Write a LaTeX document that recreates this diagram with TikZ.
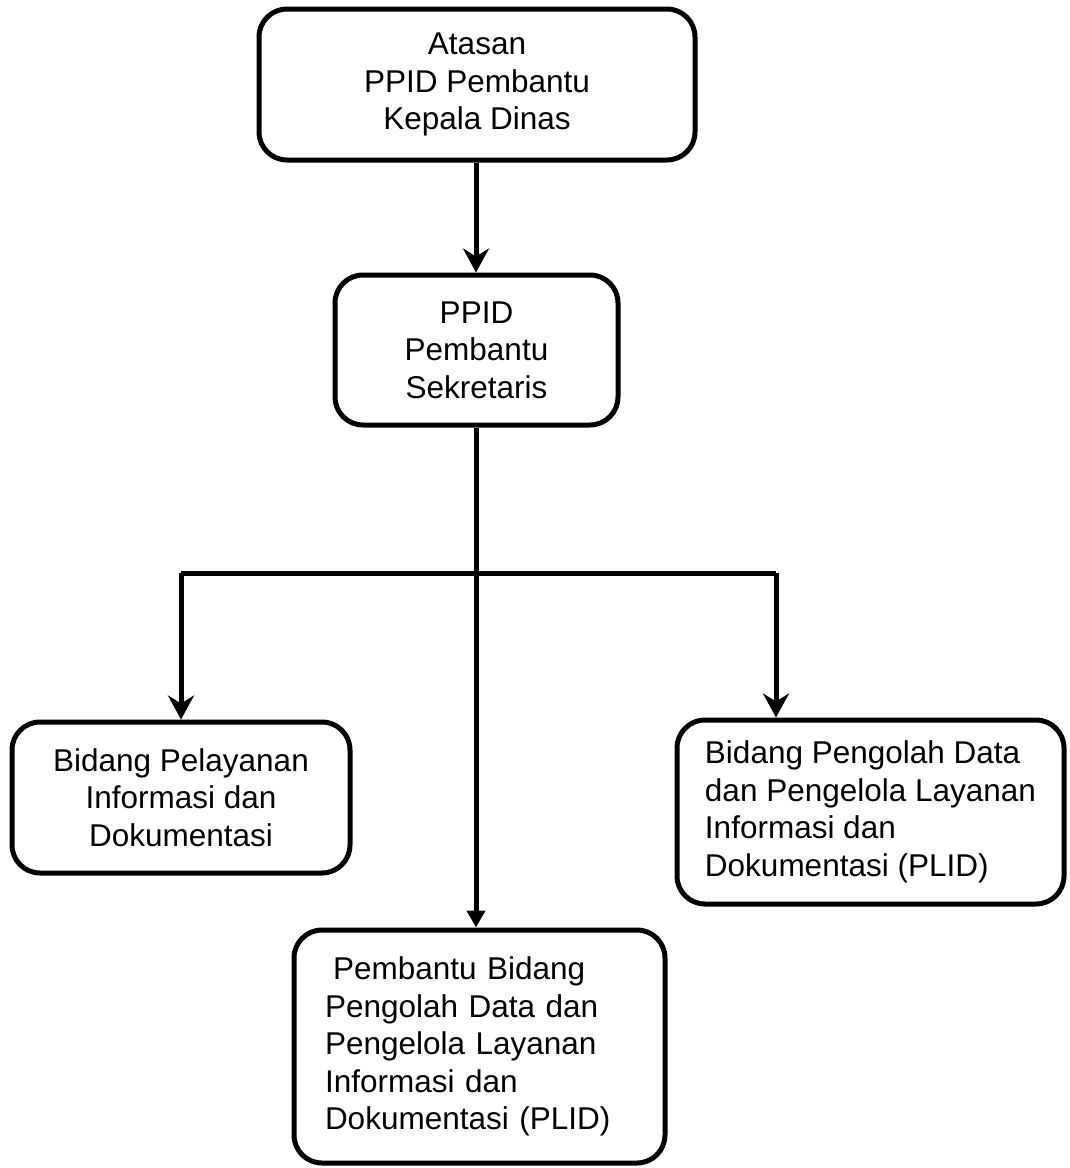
\documentclass[tikz,border=0pt]{standalone}
\usepackage{fontspec}
\setmainfont{Liberation Sans}
\usetikzlibrary{arrows.meta}
\tikzset{
  orgbox/.style={draw, line width=5pt, rounded corners=28pt, inner sep=0pt,
    font=\fontsize{31.5}{37.5}\selectfont},
  conn/.style={line width=5pt},
  stealtharrow/.style={conn, -{Stealth[length=24pt,width=26pt,inset=8pt]}},
  triarrow/.style={conn, -{Triangle[length=17pt,width=18pt]}}
}
\begin{document}
\begin{tikzpicture}[x=1pt,y=-1pt]
\useasboundingbox (0,0) rectangle (1069,1168);
\node[orgbox, align=center, minimum width=436pt, minimum height=151pt] (top) at (477,84.5)
  {Atasan\\PPID Pembantu\\Kepala Dinas};
\node[orgbox, align=center, minimum width=283pt, minimum height=150pt] (ppid) at (476.5,350)
  {PPID\\Pembantu\\Sekretaris};
\node[orgbox, align=center, minimum width=338pt, minimum height=151pt] (left) at (181,797.5)
  {Bidang Pelayanan\\Informasi dan\\Dokumentasi};
\node[orgbox, align=left, minimum width=387pt, minimum height=184pt] (right) at (870.5,812)
  {Bidang Pengolah Data\\dan Pengelola Layanan\\Informasi dan\\Dokumentasi (PLID)};
\node[orgbox, align=left, text width=309pt, inner xsep=31pt, minimum height=233pt] (bot) at (479.5,1046.5)
  {\hspace*{8pt}Pembantu Bidang\\Pengolah Data dan\\Pengelola Layanan\\Informasi dan\\Dokumentasi (PLID)};
\coordinate (j) at (476,573);
\coordinate (lj) at (181,573);
\coordinate (rj) at (776,573);
\draw[stealtharrow] (top.south -| 476,0) -- (ppid.north -| 476,0);
\draw[triarrow] (ppid.south -| j) -- (bot.north -| j);
\draw[conn] (lj) -- (rj);
\draw[stealtharrow] (lj) -- (lj |- left.north);
\draw[stealtharrow] (rj) -- (rj |- right.north);
\end{tikzpicture}
\end{document}
